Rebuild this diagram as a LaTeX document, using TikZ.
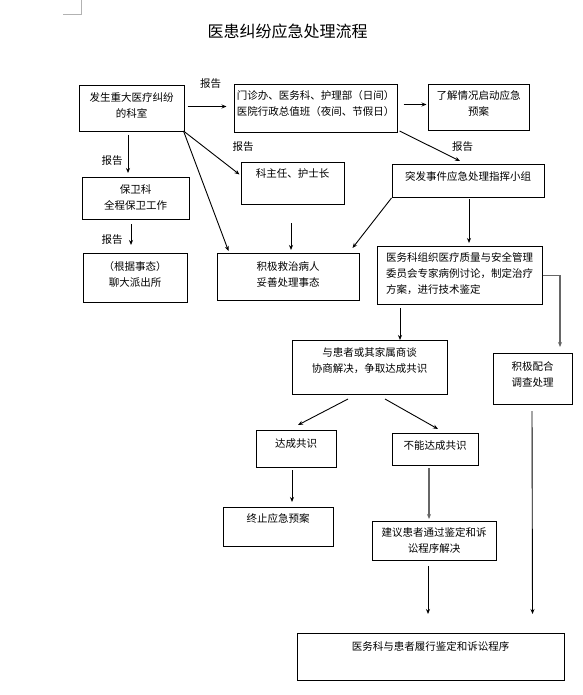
\documentclass[tikz,border=0pt]{standalone}
\usepackage{fontspec}
\setmainfont{Noto Sans CJK SC}
\usetikzlibrary{arrows.meta}
\tikzset{
  box/.style n args={3}{draw, line width=1pt, anchor=north, align=center, inner xsep=2pt, inner ysep=0pt, minimum width=#1pt, text height=#2pt, text depth=#3pt},
  arr/.style={-{Stealth[length=5pt,width=4pt]}, line width=0.9pt},
  gr/.style={gray!80!black, line width=1.3pt}
}
\begin{document}
\begin{tikzpicture}[x=1pt,y=-1pt,font=\fontsize{10.5}{16}\selectfont]
\useasboundingbox (0,0) rectangle (582,695);
\draw[gray!60] (81,0) -- (81,14) -- (63,14);
\node[font=\fontsize{16}{18}\selectfont] (title) at (287.5,31) {医患纠纷应急处理流程};
% boxes
\node[box={105}{32}{14}] (A) at (131.5,85) {发生重大医疗纠纷\\的科室};
\node[box={163}{31}{17}] (B) at (315.5,84) {门诊办、医务科、护理部（日间）\\医院行政总值班（夜间、节假日）};
\node[box={101}{31}{15}] (C) at (478.5,84) {了解情况启动应急\\预案};
\node[box={103}{15}{27}] (D) at (292.5,162) {科主任、护士长};
\node[box={152}{16}{17}] (E) at (468,164) {突发事件应急处理指挥小组};
\node[box={107}{32}{10}] (F) at (135.5,177) {保卫科\\全程保卫工作};
\node[box={104}{33}{16}] (G) at (135,253) {（根据事态）\\聊大派出所};
\node[box={142}{33}{14}] (H) at (288,253) {积极救治病人\\妥善处理事态};
\node[box={165}{47}{11}, align=left] (I) at (459.5,246) {医务科组织医疗质量与安全管理\\委员会专家病例讨论，制定治疗\\方案，进行技术鉴定};
\node[box={79}{33}{18}] (J) at (532.5,353) {积极配合\\调查处理};
\node[box={155}{32}{22}] (K) at (369.5,340) {与患者或其家属商谈\\协商解决，争取达成共识};
\node[box={80}{17}{20}] (L) at (296,430) {达成共识};
\node[box={86}{16}{16}] (M) at (435,433) {不能达成共识};
\node[box={110}{15}{24}] (N) at (278,507) {终止应急预案};
\node[box={124}{31}{8}] (O) at (434,521) {建议患者通过鉴定和诉\\讼程序解决};
\node[box={267}{17}{30}] (P) at (430.5,633) {医务科与患者履行鉴定和诉讼程序};
% labels
\node (repAB) at (210.5,84) {报告};
\node (repAD) at (243,147) {报告};
\node (repBE) at (462.5,147) {报告};
\node (repAF) at (112,161) {报告};
\node (repFG) at (112,240) {报告};
% arrows
\draw[arr] ([xshift=3pt,yshift=2pt]A.east) -- ([xshift=-7pt,yshift=2pt]B.west);
\draw[arr] ([xshift=6pt,yshift=4pt]B.east) -- ([xshift=-1pt,yshift=3pt]C.west);
\draw[arr] ([xshift=2pt,yshift=2pt]B.south east) -- ([xshift=-8pt,yshift=3pt]E.north);
\draw[arr] ([xshift=-3.5pt,yshift=-3pt]A.south) -- ([xshift=-7.5pt,yshift=4pt]F.north);
\draw[arr] ([xshift=-1pt,yshift=1pt]A.south east) -- ([xshift=-1pt,yshift=9pt]D.west);
\draw[arr] ([xshift=-1pt,yshift=1pt]A.south east) -- ([xshift=12pt,yshift=2pt]H.north west);
\draw[arr] ([xshift=-4.5pt,yshift=-4pt]F.south) -- ([xshift=-4pt,yshift=8pt]G.north);
\draw[arr] ([xshift=-1.5pt,yshift=-18pt]D.south) -- ([xshift=3pt,yshift=3pt]H.north);
\draw[arr] (E.south west) -- ([xshift=-7pt,yshift=5pt]H.north east);
\draw[arr] ([xshift=1pt,yshift=-1pt]E.south) -- ([xshift=9.5pt,yshift=3pt]I.north);
\draw[arr,gr] (I.east) -| ([xshift=27.5pt,yshift=6pt]J.north);
\draw[arr] ([xshift=-59.5pt,yshift=-3pt]I.south) -- ([xshift=30.5pt]K.north);
\draw[arr] ([xshift=-21.5pt,yshift=-4pt]K.south) -- ([xshift=2pt,yshift=5pt]L.north);
\draw[arr] ([xshift=15.5pt,yshift=-4pt]K.south) -- ([xshift=3pt,yshift=4pt]M.north);
\draw[arr] ([xshift=-4pt,yshift=-2pt]L.south) -- ([xshift=14pt,yshift=5pt]N.north);
\draw[arr,gr] ([xshift=-6pt,yshift=-2pt]M.south) -- ([xshift=-5pt,yshift=2pt]O.north);
\draw[arr] ([xshift=-6pt,yshift=-5pt]O.south) -- ([xshift=-2.5pt,yshift=19pt]P.north);
\draw[arr] ([xshift=-0.5pt,yshift=-6pt]J.south) -- ([xshift=-32pt,yshift=19pt]P.north east);
\end{tikzpicture}
\end{document}
